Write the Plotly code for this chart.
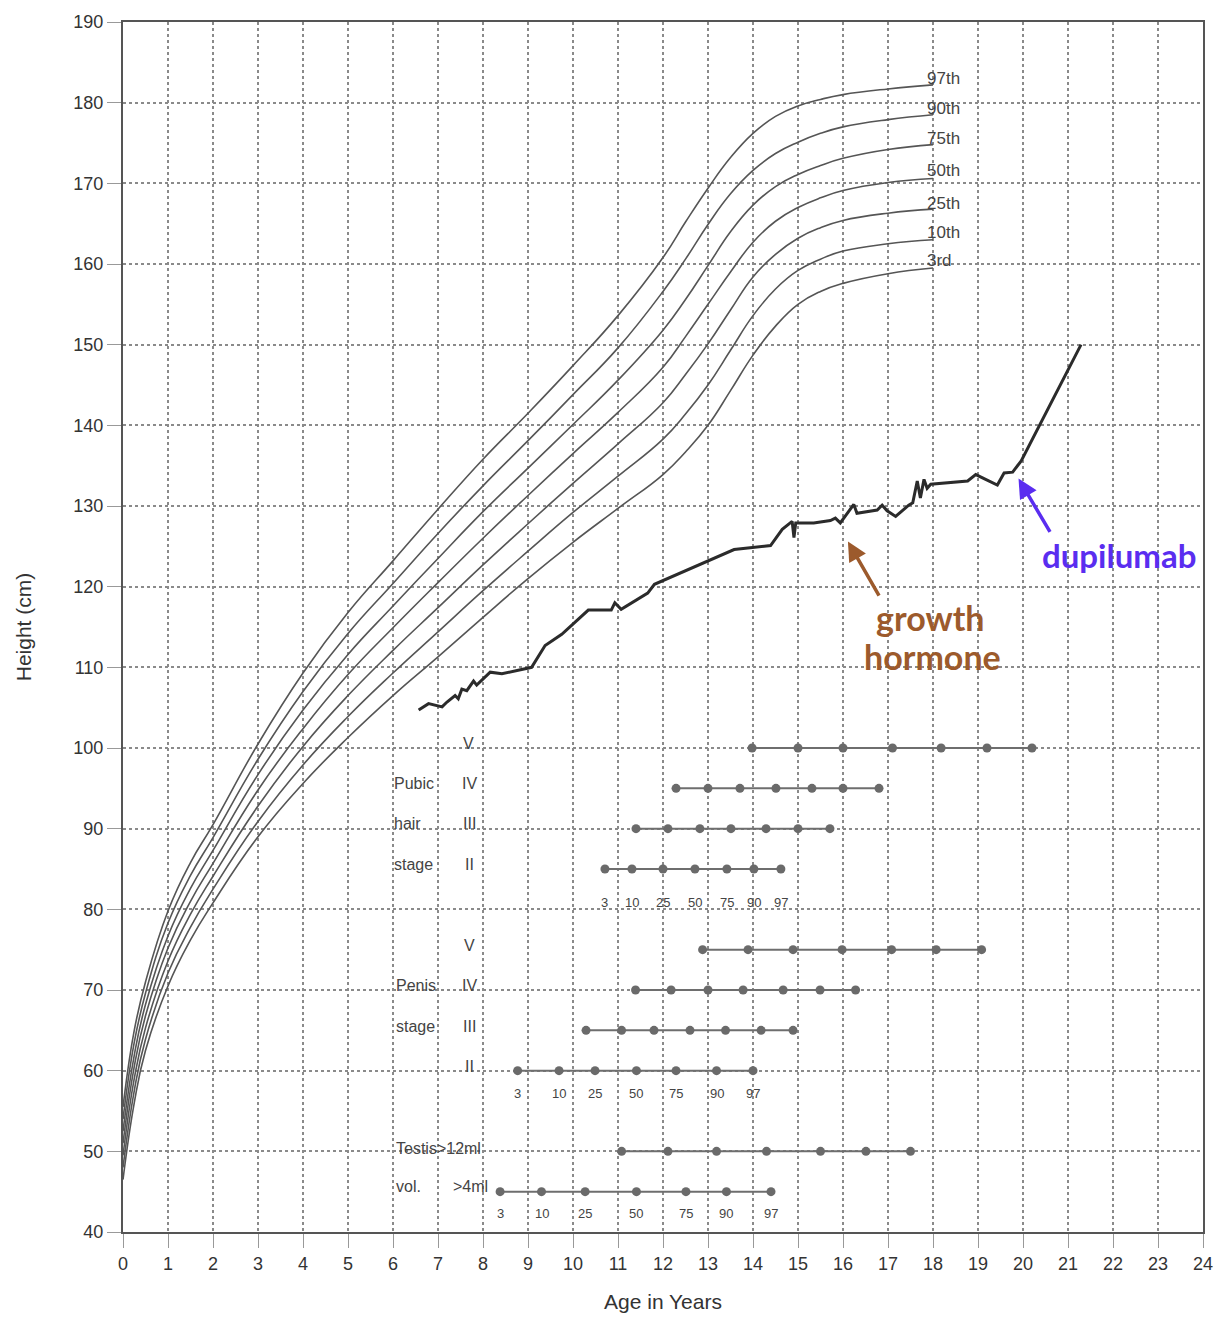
import plotly.graph_objects as go

# ---------------- data ----------------
ages = [0, 0.25, 0.5, 1, 1.5, 2, 3, 4, 5, 6, 7, 8, 9, 10, 11, 12, 12.5, 13, 13.5, 14, 14.5, 15, 15.5, 16, 17, 18]

p97 = [55.5, 65.0, 71.0, 79.8, 85.8, 90.5, 100.5, 109.3, 116.8, 123.2, 129.6, 135.8, 141.5, 147.4, 153.6, 160.8, 165.2, 169.4, 173.2, 176.2, 178.3, 179.6, 180.4, 181.0, 181.7, 182.2]
p90 = [54.0, 63.5, 69.6, 78.3, 84.2, 88.9, 98.6, 107.0, 114.2, 120.4, 126.6, 132.5, 138.1, 143.8, 149.6, 156.6, 160.6, 164.9, 168.7, 171.6, 173.7, 175.1, 176.2, 177.0, 177.9, 178.5]
p75 = [52.5, 61.9, 68.2, 76.7, 82.6, 87.3, 96.7, 104.7, 111.6, 117.6, 123.5, 129.3, 134.7, 140.1, 145.6, 151.8, 155.6, 159.8, 164.0, 167.3, 169.6, 171.1, 172.2, 173.1, 174.2, 174.8]
p50 = [51.0, 60.5, 66.8, 75.2, 81.0, 85.7, 94.8, 102.4, 109.1, 114.9, 120.5, 126.0, 131.3, 136.5, 141.6, 147.2, 151.0, 155.0, 159.0, 162.7, 165.3, 167.0, 168.2, 169.1, 170.1, 170.6]
p25 = [49.5, 59.0, 65.3, 73.6, 79.4, 84.1, 92.8, 100.2, 106.5, 112.1, 117.4, 122.7, 127.8, 132.8, 137.7, 142.8, 146.3, 150.1, 154.3, 158.4, 161.2, 163.2, 164.5, 165.4, 166.3, 166.8]
p10 = [48.0, 57.5, 63.9, 72.1, 77.8, 82.5, 90.9, 97.9, 103.9, 109.3, 114.4, 119.5, 124.4, 129.2, 133.7, 138.3, 141.4, 145.0, 149.3, 153.6, 156.9, 159.2, 160.6, 161.6, 162.5, 163.0]
p3 = [46.5, 56.0, 62.5, 70.5, 76.2, 80.8, 89.0, 95.6, 101.3, 106.5, 111.3, 116.2, 121.0, 125.5, 129.7, 133.9, 136.7, 140.0, 144.3, 148.7, 152.3, 155.0, 156.6, 157.6, 158.8, 159.5]

percentile_names = ["97th", "90th", "75th", "50th", "25th", "10th", "3rd"]
percentile_series = [p97, p90, p75, p50, p25, p10, p3]
label_y = [183.0, 179.3, 175.6, 171.6, 167.5, 163.9, 160.4]

# patient height
pat_age = [6.57, 6.79, 7.09, 7.20, 7.38, 7.45, 7.53, 7.64, 7.79, 7.86, 8.16, 8.42, 9.08, 9.38, 9.75,
           10.26, 10.34, 10.85, 10.93, 11.07, 11.66, 11.81, 12.70, 13.58, 14.39, 14.65, 14.87, 14.91,
           14.95, 15.35, 15.72, 15.83, 15.94, 16.24, 16.31, 16.76, 16.87, 16.98, 17.17, 17.46, 17.55,
           17.65, 17.72, 17.80, 17.87, 17.95, 18.77, 18.95, 19.43, 19.58, 19.77, 19.96, 21.29]
pat_h = [104.7, 105.5, 105.1, 105.7, 106.5, 106.1, 107.3, 107.1, 108.3, 107.8, 109.4, 109.2, 110.0, 112.7, 114.1,
         116.8, 117.1, 117.1, 118.0, 117.2, 119.2, 120.3, 122.5, 124.6, 125.1, 127.1, 128.1, 126.1,
         127.9, 127.9, 128.2, 128.5, 127.9, 130.2, 129.1, 129.5, 130.1, 129.4, 128.7, 130.1, 130.4,
         133.1, 131.0, 133.3, 132.2, 132.7, 133.1, 133.9, 132.6, 134.1, 134.2, 135.6, 150.0]

# puberty (Tanner) percentile bars: 3,10,25,50,75,90,97
pct_labels = ["3", "10", "25", "50", "75", "90", "97"]
pubic_V = [13.98, 15.0, 16.0, 17.1, 18.18, 19.2, 20.2]
pubic_IV = [12.29, 13.0, 13.71, 14.51, 15.31, 16.0, 16.8]
pubic_III = [11.4, 12.11, 12.82, 13.51, 14.29, 15.0, 15.71]
pubic_II = [10.71, 11.31, 12.0, 12.71, 13.42, 14.02, 14.62]
penis_V = [12.88, 13.89, 14.89, 15.98, 17.08, 18.07, 19.08]
penis_IV = [11.39, 12.18, 13.0, 13.78, 14.67, 15.49, 16.28]
penis_III = [10.29, 11.08, 11.80, 12.60, 13.39, 14.18, 14.89]
penis_II = [8.77, 9.69, 10.49, 11.41, 12.29, 13.19, 14.0]
testis_12 = [11.08, 12.11, 13.19, 14.30, 15.50, 16.51, 17.50]
testis_4 = [8.38, 9.30, 10.27, 11.41, 12.51, 13.41, 14.40]

stage_rows = [
    (pubic_V, 100), (pubic_IV, 95), (pubic_III, 90), (pubic_II, 85),
    (penis_V, 75), (penis_IV, 70), (penis_III, 65), (penis_II, 60),
    (testis_12, 50), (testis_4, 45),
]

# ---------------- figure ----------------
fig = go.Figure()

for name, ser in zip(percentile_names, percentile_series):
    fig.add_trace(go.Scatter(x=ages, y=ser, mode="lines", name=name,
                             line=dict(color="#555555", width=1.6, shape="spline", smoothing=1.3),
                             hoverinfo="skip", showlegend=False))

for xs, yv in stage_rows:
    fig.add_trace(go.Scatter(x=xs, y=[yv] * len(xs), mode="lines+markers",
                             line=dict(color="#6e6e6e", width=2),
                             marker=dict(color="#6a6a6a", size=9),
                             hoverinfo="skip", showlegend=False))

fig.add_trace(go.Scatter(x=pat_age, y=pat_h, mode="lines",
                         line=dict(color="#2b2b2b", width=3),
                         hoverinfo="skip", showlegend=False))

ann = []
for name, yv in zip(percentile_names, label_y):
    ann.append(dict(x=17.82, y=yv, text=name, showarrow=False, xanchor="left", yanchor="middle",
                    font=dict(family="Liberation Sans, Arial", size=17, color="#444444")))


def lab(x, y, t, size=16, anchor="left"):
    ann.append(dict(x=x, y=y, text=t, showarrow=False, xanchor=anchor, yanchor="middle",
                    font=dict(family="Liberation Sans, Arial", size=size, color="#444444")))


lab(7.67, 100.6, "V", anchor="center")
lab(5.98, 95.6, "Pubic")
lab(7.70, 95.6, "IV", anchor="center")
lab(5.98, 90.6, "hair")
lab(7.70, 90.6, "III", anchor="center")
lab(5.98, 85.6, "stage")
lab(7.70, 85.6, "II", anchor="center")
for xv, t in zip(pubic_II, pct_labels):
    lab(xv, 80.8, t, size=13, anchor="center")

lab(7.69, 75.5, "V", anchor="center")
lab(6.02, 70.5, "Penis")
lab(7.70, 70.5, "IV", anchor="center")
lab(6.02, 65.5, "stage")
lab(7.70, 65.5, "III", anchor="center")
lab(7.70, 60.5, "II", anchor="center")
for xv, t in zip(penis_II, pct_labels):
    lab(xv, 57.2, t, size=13, anchor="center")

lab(6.02, 50.4, "Testis>12ml")
lab(6.02, 45.6, "vol.")
lab(7.28, 45.6, ">4ml")
for xv, t in zip(testis_4, pct_labels):
    lab(xv, 42.3, t, size=13, anchor="center")

# arrows and treatment labels
ann.append(dict(x=16.11, y=125.6, ax=16.82, ay=118.7, axref="x", ayref="y", xref="x", yref="y",
                showarrow=True, arrowhead=2, arrowsize=1.1, arrowwidth=3.5, arrowcolor="#9c5a2c", text=""))
ann.append(dict(x=17.95, y=116.2, text="<b>growth</b>", showarrow=False,
                font=dict(family="Lato, Open Sans", size=34, color="#9c5a2c")))
ann.append(dict(x=17.98, y=111.3, text="<b>hormone</b>", showarrow=False,
                font=dict(family="Lato, Open Sans", size=34, color="#9c5a2c")))
ann.append(dict(x=19.9, y=133.4, ax=20.62, ay=126.6, axref="x", ayref="y", xref="x", yref="y",
                showarrow=True, arrowhead=2, arrowsize=1.1, arrowwidth=3.5, arrowcolor="#5a2df0", text=""))
ann.append(dict(x=22.13, y=123.9, text="<b>dupilumab</b>", showarrow=False,
                font=dict(family="Lato, Open Sans", size=33, color="#5a2df0")))

fig.update_layout(
    width=1227, height=1324,
    margin=dict(l=123, r=24, t=18, b=92),
    paper_bgcolor="white", plot_bgcolor="white",
    annotations=ann,
    font=dict(family="Liberation Sans, Arial", size=18, color="#333333"),
)
fig.update_xaxes(range=[0, 24], dtick=1, tick0=0, showgrid=True, gridcolor="#8a8a8a", griddash="dot",
                 gridwidth=1.5, showline=True, linecolor="#555555", linewidth=2, mirror=True,
                 ticks="outside", ticklen=14, tickcolor="#999999", zeroline=False,
                 title=dict(text="Age in Years", font=dict(size=21, color="#333333"), standoff=22))
fig.update_yaxes(range=[40, 190], dtick=10, tick0=40, showgrid=True, gridcolor="#8a8a8a", griddash="dot",
                 gridwidth=1.5, showline=True, linecolor="#555555", linewidth=2, mirror=True,
                 ticks="outside", ticklen=14, tickcolor="#999999", zeroline=False,
                 title=dict(text="Height (cm)", font=dict(size=21, color="#333333"), standoff=36))

fig.write_html("out.html")
